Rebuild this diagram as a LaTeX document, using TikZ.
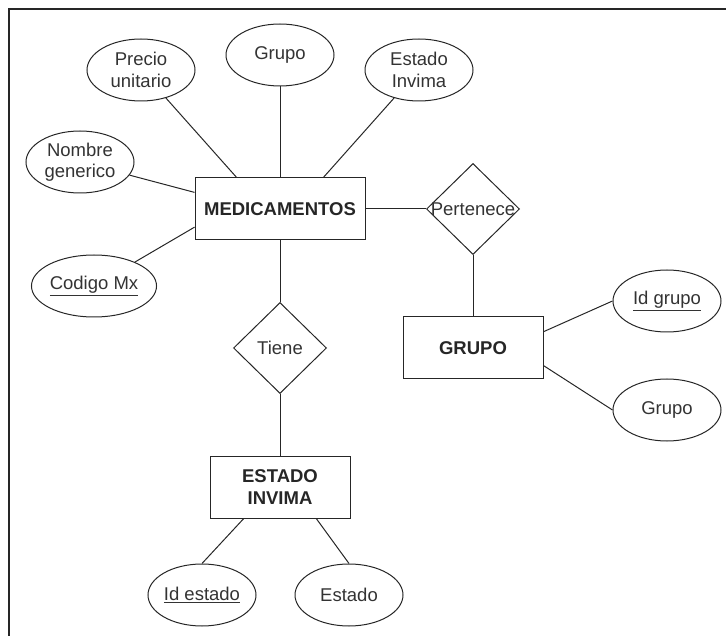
\documentclass[tikz,border=0pt]{standalone}
\usepackage{fontspec}
\setmainfont{Liberation Sans}
\usetikzlibrary{shapes.geometric}

\begin{document}
\begin{tikzpicture}[x=1pt,y=-1pt,line width=1pt,
		font=\fontsize{18.5}{21.5}\selectfont,
		entity/.style={draw=black!85,
				rectangle,
				minimum width=140pt,
				minimum height=62pt,
				inner sep=0pt,
				text=black!85,
				font=\fontsize{18.5}{21.5}\selectfont\bfseries,
				align=center},
		attr/.style={draw=black!85, ellipse, minimum width=108pt, minimum height=62pt, inner sep=0pt, text=black!80, align=center},
		rel/.style={draw=black!85, diamond, minimum width=93pt, minimum height=91pt, inner sep=0pt, label={[text=black!80]center:#1}}]
	\useasboundingbox (0,0) rectangle (726,636);
	\draw[line width=1.5pt,black!85] (9,636)--(9,9)--(726,9);
	% entidades
	\node[entity,minimum width=170pt] (med) at (280,209) {MEDICAMENTOS};
	\node[entity] (grp) at (473,348) {GRUPO};
	\node[entity] (est) at (280,487) {ESTADO\\INVIMA};
	% relaciones
	\node[rel=Pertenece] (per) at (473,209) {};
	\node[rel=Tiene] (tie) at (280,348) {};
	% atributos
	\node[attr] (pu) at (141,70) {Precio\\unitario};
	\node[attr] (gr1) at (280,55) {Grupo};
	\node[attr] (ei) at (419,70) {Estado\\Invima};
	\node[attr] (ng) at (80,162) {Nombre\\generico};
	\node[attr] (cmx) at (94,286) {\underline{Codigo Mx}};
	\node[attr] (idg) at (667,301) {\underline{Id grupo}};
	\node[attr] (gr2) at (667,410) {Grupo};
	\node[attr] (ide) at (202,595) {\underline{Id estado}};
	\node[attr] (sta) at (349,595) {Estado};
	\begin{scope}[draw=black!85]
		\draw (pu)--(med.144);
		\draw (gr1)--(med);
		\draw (ei)--(med.36);
		\draw (ng)--(med.169);
		\draw (cmx)--(med.192);
		\draw (med)--(per);
		\draw (per)--(grp);
		\draw (med)--(tie);
		\draw (tie)--(est);
		\draw (grp.13)--(idg.west);
		\draw (grp.-14)--(gr2.west);
		\draw (est.221)--(ide.north);
		\draw (est.-41.5)--(sta.north);
	\end{scope}
\end{tikzpicture}
\end{document}
